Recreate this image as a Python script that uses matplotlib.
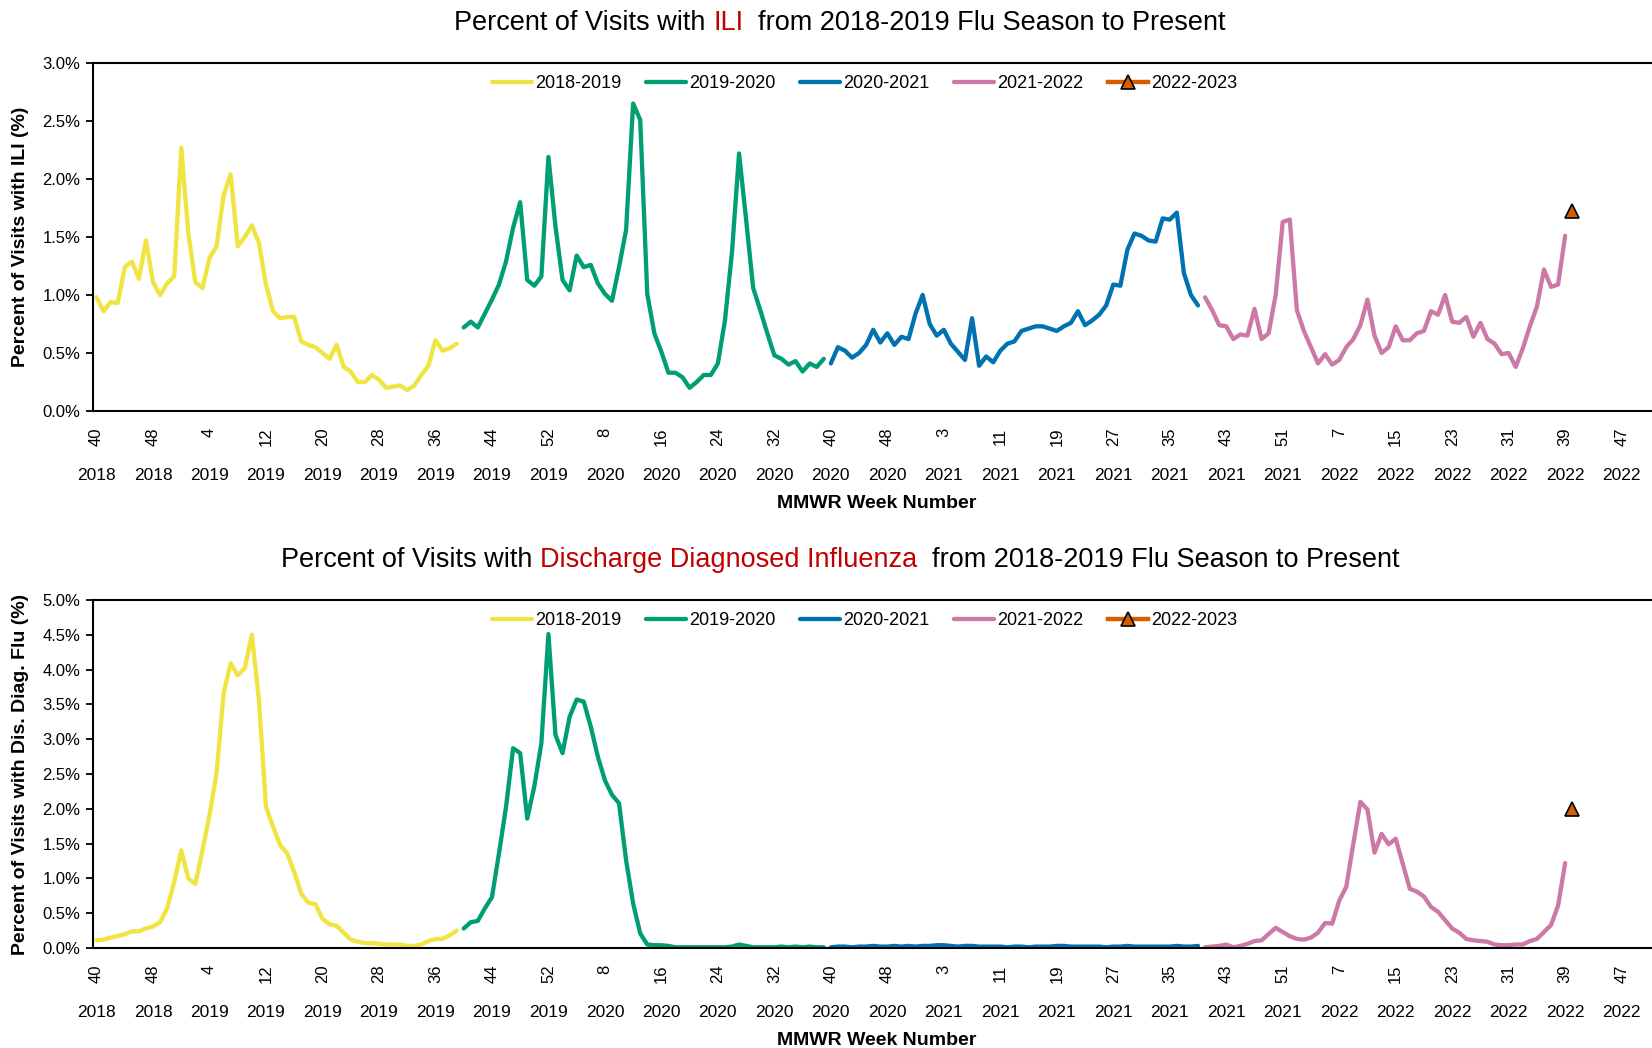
import numpy as np
import matplotlib
matplotlib.use('Agg')
import matplotlib.pyplot as plt
import matplotlib.transforms as mtransforms
from matplotlib.ticker import FuncFormatter, MultipleLocator

plt.rcParams['font.family'] = ['Liberation Sans', 'DejaVu Sans']

# Semanas por anio (MMWR); cada temporada empieza en la semana 40
seasons = ['2018-2019', '2019-2020', '2020-2021', '2021-2022', '2022-2023']
weeks_in_year = [52, 52, 53, 52]
colors = ['#F0E442', '#009E73', '#0072B2', '#CC79A7', '#D55E00']

week_labels = ['40', '48', '4', '12', '20', '28', '36', '44', '52', '8', '16', '24', '32', '40',
               '48', '3', '11', '19', '27', '35', '43', '51', '7', '15', '23', '31', '39', '47']
year_labels = ['2018', '2018', '2019', '2019', '2019', '2019', '2019', '2019', '2019', '2020',
               '2020', '2020', '2020', '2020', '2020', '2021', '2021', '2021', '2021', '2021',
               '2021', '2021', '2022', '2022', '2022', '2022', '2022', '2022']

# Porcentaje de visitas con ILI
ili_1819 = [0.98, 0.86, 0.94, 0.93, 1.24, 1.29, 1.14, 1.47, 1.11, 1.00,
            1.10, 1.16, 2.27, 1.53, 1.11, 1.06, 1.32, 1.42, 1.86, 2.04,
            1.42, 1.50, 1.60, 1.45, 1.09, 0.86, 0.80, 0.81, 0.81, 0.60,
            0.57, 0.55, 0.50, 0.45, 0.57, 0.38, 0.34, 0.25, 0.25, 0.31,
            0.27, 0.20, 0.21, 0.22, 0.18, 0.22, 0.31, 0.39, 0.61, 0.52,
            0.54, 0.58]
ili_1920 = [0.72, 0.77, 0.72, 0.84, 0.96, 1.09, 1.29, 1.58, 1.80, 1.13, 1.08, 1.16, 2.19,
            1.59, 1.13, 1.04, 1.34, 1.24, 1.26, 1.10, 1.01, 0.95, 1.24, 1.56, 2.65, 2.51,
            1.01, 0.67, 0.51, 0.33, 0.33, 0.29, 0.20, 0.25, 0.31, 0.31, 0.41, 0.78, 1.37,
            2.22, 1.65, 1.06, 0.87, 0.67, 0.48, 0.45, 0.40, 0.43, 0.34, 0.41, 0.38, 0.45]
ili_2021 = [0.41, 0.55, 0.52, 0.46, 0.50, 0.57, 0.70, 0.59, 0.67, 0.57, 0.64, 0.62, 0.84,
            1.00, 0.75, 0.65, 0.70, 0.58, 0.51, 0.44, 0.80, 0.39, 0.47, 0.42, 0.52, 0.58,
            0.60, 0.69, 0.71, 0.73, 0.73, 0.71, 0.69, 0.73, 0.76, 0.86, 0.74, 0.78, 0.83,
            0.91, 1.09, 1.08, 1.39, 1.53, 1.51, 1.47, 1.46, 1.66, 1.65, 1.71, 1.19, 1.00, 0.91]
ili_2122 = [0.98, 0.87, 0.74, 0.73, 0.62, 0.66, 0.65, 0.88, 0.62, 0.67, 1.00, 1.63, 1.65,
            0.87, 0.69, 0.55, 0.41, 0.49, 0.40, 0.44, 0.55, 0.62, 0.74, 0.96, 0.65, 0.50,
            0.55, 0.73, 0.61, 0.61, 0.67, 0.69, 0.86, 0.83, 1.00, 0.77, 0.76, 0.81, 0.64,
            0.76, 0.62, 0.58, 0.49, 0.50, 0.38, 0.54, 0.73, 0.90, 1.22, 1.07, 1.09, 1.51]
ili_2223 = [1.72]

# Porcentaje de visitas con diagnostico de influenza al alta
dd_1819 = [0.11, 0.12, 0.15, 0.17, 0.20, 0.24, 0.24, 0.28, 0.31, 0.37,
           0.57, 0.95, 1.40, 1.00, 0.92, 1.40, 1.91, 2.51, 3.66, 4.09,
           3.92, 4.02, 4.50, 3.56, 2.03, 1.74, 1.48, 1.36, 1.09, 0.78,
           0.65, 0.63, 0.42, 0.34, 0.32, 0.22, 0.12, 0.09, 0.07, 0.07,
           0.06, 0.05, 0.05, 0.05, 0.03, 0.03, 0.05, 0.10, 0.13, 0.13,
           0.18, 0.25]
dd_1920 = [0.28, 0.37, 0.39, 0.57, 0.73, 1.36, 2.03, 2.87, 2.80, 1.86, 2.32, 2.94, 4.51,
           3.06, 2.80, 3.32, 3.57, 3.54, 3.18, 2.75, 2.41, 2.20, 2.08, 1.26, 0.64, 0.21,
           0.05, 0.04, 0.04, 0.03, 0.01, 0.01, 0.01, 0.01, 0.01, 0.01, 0.01, 0.01, 0.02,
           0.05, 0.03, 0.01, 0.01, 0.01, 0.01, 0.02, 0.01, 0.02, 0.01, 0.02, 0.01, 0.01]
dd_2021 = [0.01, 0.02, 0.02, 0.01, 0.02, 0.02, 0.03, 0.02, 0.02, 0.03, 0.02, 0.03, 0.02,
           0.03, 0.03, 0.04, 0.04, 0.03, 0.02, 0.03, 0.03, 0.02, 0.02, 0.02, 0.02, 0.01,
           0.02, 0.02, 0.01, 0.02, 0.02, 0.02, 0.03, 0.03, 0.02, 0.02, 0.02, 0.02, 0.02,
           0.01, 0.02, 0.02, 0.03, 0.02, 0.02, 0.02, 0.02, 0.02, 0.02, 0.03, 0.02, 0.02, 0.03]
dd_2122 = [0.01, 0.02, 0.03, 0.05, 0.01, 0.03, 0.06, 0.10, 0.11, 0.20, 0.29, 0.23, 0.17,
           0.13, 0.12, 0.15, 0.22, 0.36, 0.35, 0.68, 0.88, 1.50, 2.10, 1.99, 1.37, 1.64,
           1.49, 1.57, 1.21, 0.85, 0.81, 0.74, 0.59, 0.52, 0.40, 0.28, 0.22, 0.13, 0.11,
           0.10, 0.09, 0.05, 0.04, 0.04, 0.05, 0.05, 0.10, 0.13, 0.23, 0.33, 0.61, 1.22]
dd_2223 = [2.00]

W, H = 1652, 1048
fig = plt.figure(figsize=(W / 100, H / 100), dpi=100)

starts = np.concatenate([[0], np.cumsum(weeks_in_year)])


def titulo(y, partes, xc=840, size=19.5):
    "Titulo con partes en distinto color, centrado en xc (px)"
    renderer = fig.canvas.get_renderer()
    full = ''.join(s for s, c in partes)

    def ancho(s):
        t = fig.text(0, 0, s, fontsize=size)
        w = t.get_window_extent(renderer).width
        t.remove()
        return w

    total = ancho(full)
    x0 = xc - total / 2
    prefijo = ''
    for s, c in partes:
        prefijo += s
        txt = s.strip()
        x = x0 + ancho(prefijo.rstrip()) - ancho(txt)
        fig.text(x / W, y, txt, fontsize=size, color=c, ha='left', va='center')


def panel(rect, series, ymax, ylabel):
    ax = fig.add_axes(rect)
    for k, (vals, name, col) in enumerate(zip(series, seasons, colors)):
        x = np.arange(starts[k], starts[k] + len(vals))
        if k == 4:
            ax.plot(x, vals, color=col, lw=3.2, marker='^', ms=10.5, mec='black', mew=1.2,
                    label=name)
        else:
            ax.plot(x, vals, color=col, lw=3.1, label=name, solid_capstyle='round',
                    solid_joinstyle='round')
    ax.set_xlim(-0.5, 220.3)
    ax.set_ylim(0, ymax)
    ax.yaxis.set_major_locator(MultipleLocator(0.5))
    ax.yaxis.set_major_formatter(FuncFormatter(lambda v, p: '%.1f%%' % v))
    ticks = np.arange(len(week_labels)) * 8
    ax.set_xticks(ticks)
    ax.set_xticklabels(week_labels, rotation=90, fontsize=12)
    ax.tick_params(axis='x', length=0, pad=12)
    ax.tick_params(axis='y', length=5, width=1.3, labelsize=12, direction='out', pad=4)
    for s in ['left', 'top', 'bottom']:
        ax.spines[s].set_linewidth(1.5)
    ax.spines['right'].set_visible(False)
    trans = mtransforms.blended_transform_factory(ax.transData, ax.transAxes)
    for t, yl in zip(ticks, year_labels):
        ax.text(t, -0.185, yl, transform=trans, ha='center', va='center', fontsize=12.5)
    ax.text(0.503, -0.265, 'MMWR Week Number', transform=ax.transAxes, ha='center',
            va='center', fontsize=14, fontweight='bold')
    ax.legend(loc='center', bbox_to_anchor=(0.495, 0.94), ncol=5, frameon=False,
              fontsize=13, handlelength=2.2, handletextpad=0.2, columnspacing=1.35)
    yc = rect[1] + rect[3] / 2
    fig.text(21 / W, yc, ylabel, rotation=90, ha='center', va='center', fontsize=14,
             fontweight='bold')
    return ax


left = 93 / W
width = 1.0 - left
panel([left, 1 - 411 / H, width, 348 / H],
      [ili_1819, ili_1920, ili_2021, ili_2122, ili_2223], 3.0,
      'Percent of Visits with ILI (%)')
panel([left, 1 - 948 / H, width, 348 / H],
      [dd_1819, dd_1920, dd_2021, dd_2122, dd_2223], 5.0,
      'Percent of Visits with Dis. Diag. Flu (%)')

rojo = '#C00000'
titulo(1 - 23 / H, [('Percent of Visits with ', 'black'), ('ILI', rojo),
                    ('  from 2018-2019 Flu Season to Present', 'black')])
titulo(1 - 560 / H, [('Percent of Visits with ', 'black'), ('Discharge Diagnosed Influenza', rojo),
                     ('  from 2018-2019 Flu Season to Present', 'black')])

fig.savefig('out.png', dpi=100)
